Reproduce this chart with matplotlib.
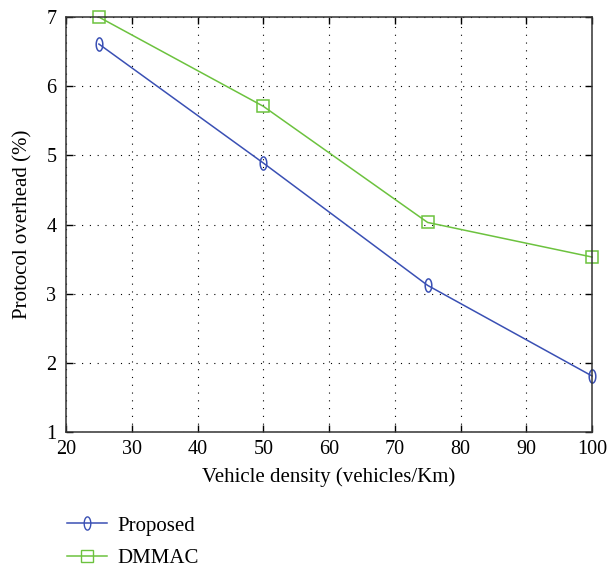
import matplotlib
matplotlib.use("Agg")
import matplotlib.pyplot as plt
import numpy as np
from matplotlib.path import Path
from matplotlib.lines import Line2D

plt.rcParams['font.family'] = ['Liberation Serif', 'DejaVu Serif']

density = [25, 50, 75, 100]
proposed = [6.61, 4.89, 3.12, 1.81]
dmmac = [7.0, 5.71, 4.03, 3.53]
xticks = [20, 30, 40, 50, 60, 70, 80, 90, 100]
yticks = [1, 2, 3, 4, 5, 6, 7]

# narrow ellipse marker
t = np.linspace(0, 2 * np.pi, 60)
ell = Path(np.column_stack([0.5 * np.cos(t), np.sin(t)]), closed=True)

blue = '#3a50b4'
green = '#6cc23e'

fig = plt.figure(figsize=(6.08, 5.69), dpi=100)
ax = fig.add_axes([0.1086, 0.2408, 0.8651, 0.7292])

ax.plot(density, proposed, color=blue, lw=1.1, marker=ell, ms=9.5,
        mfc='none', mec=blue, mew=1.1, label='Proposed', clip_on=False)
ax.plot(density, dmmac, color=green, lw=1.1, marker='s', ms=8.6,
        mfc='none', mec=green, mew=1.1, label='DMMAC', clip_on=False)

ax.set_xlim(20, 100)
ax.set_ylim(1, 7)
ax.set_xticks(xticks)
ax.set_yticks(yticks)
ax.grid(True, color='black', linestyle=(0, (1, 6)), linewidth=0.8)
ax.tick_params(direction='in', top=True, right=True, length=5, width=1,
               labelsize=14.5)
ax.tick_params(axis='x', pad=6)
ax.tick_params(axis='y', pad=7)
for s in ax.spines.values():
    s.set_linewidth(1.1)
    s.set_color('#333333')
ax.set_xlabel('Vehicle density (vehicles/Km)', fontsize=15, labelpad=6)
ax.set_ylabel('Protocol overhead (%)', fontsize=15, labelpad=10)

handles = [Line2D([], [], color=blue, lw=1.1, marker=ell, ms=9.5, mfc='none', mec=blue),
           Line2D([], [], color=green, lw=1.1, marker='s', ms=8.6, mfc='none', mec=green)]
fig.legend(handles, ['Proposed', 'DMMAC'], loc='center left',
           bbox_to_anchor=(67 / 608, 1 - 542 / 569), frameon=False, fontsize=15,
           handlelength=1.9, handletextpad=0.5, labelspacing=0.6,
           borderpad=0, borderaxespad=0)

fig.savefig('out.png', dpi=100)
